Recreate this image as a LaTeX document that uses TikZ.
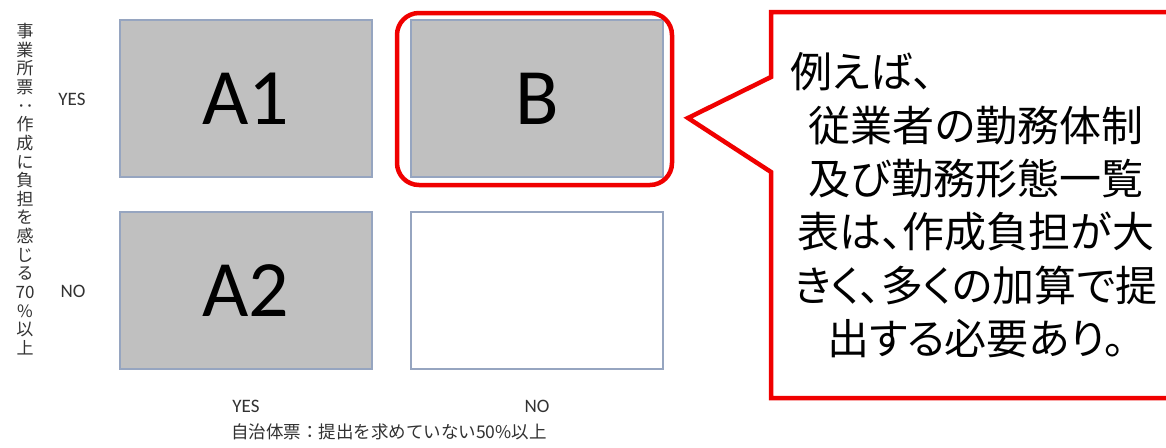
\documentclass[tikz,border=0pt]{standalone}
\usepackage{fontspec}
\setmainfont{Carlito}
\newfontfamily\jp{Noto Sans CJK JP}
\newfontfamily\jpp[RawFeature=+palt]{Noto Sans CJK JP}
\usetikzlibrary{positioning}
\definecolor{boxgray}{RGB}{192,192,192}
\definecolor{boxedge}{RGB}{150,165,192}
\definecolor{calred}{RGB}{240,0,0}
\definecolor{labtext}{RGB}{50,50,50}
\tikzset{
  cell/.style={draw=boxedge, line width=1.2pt, minimum width=252pt, minimum height=157pt, inner sep=0pt, font=\fontsize{80}{80}\selectfont},
  filled/.style={cell, fill=boxgray},
  axislab/.style={font=\fontsize{19}{19}\selectfont, text=labtext, inner sep=0pt},
  jplab/.style={font=\jp\fontsize{17.5}{18}\selectfont, text=labtext, inner sep=0pt},
  redline/.style={draw=calred, line width=4.5pt},
  callouttext/.style={font=\jpp\fontsize{42}{53.2}\selectfont, text=black, inner sep=0pt}
}
\begin{document}
\begin{tikzpicture}[x=1pt,y=-1pt]
\useasboundingbox[fill=white] (0,0) rectangle (1166,447);
% cells
\node[filled] (A1) at (246,98.5) {A1};
\node[filled] (B) at (537,98.5) {B};
\node[filled] (A2) at (246,290.5) {A2};
\node[cell] (E) at (537,290.5) {};
% red ring round B
\node[redline, rounded corners=22pt, minimum width=275pt, minimum height=172pt, inner sep=0pt] (ring) at (534.5,99) {};
% axis labels
\node[axislab] (ly) at (72,99) {YES};
\node[axislab] (ln) at (73,291) {NO};
\node[axislab] (by) at (246,406) {YES};
\node[axislab] (bn) at (537,406) {NO};
\node[jplab] (cap) at (389,432) {自治体票：提出を求めていない50\%以上};
\node[jplab, font=\jp\fontsize{17}{18.65}\selectfont, align=center, anchor=north] (vcap) at (25,23)
 {事\\業\\所\\票\\\rotatebox[origin=c]{-90}{：}\\作\\成\\に\\負\\担\\を\\感\\じ\\る\\70\\\%\\以\\上};
% callout
\coordinate (tip) at (688,118);
\draw[redline, line join=miter] (1172,12) -- (771,12) -- (771,77) -- (tip) -- (771,172) -- (771,398) -- (1172,398);
\node[callouttext, anchor=west] (c1) at (790,72) {例えば、};
\node[callouttext, align=center] (c2) at (976,232)
 {従業者の勤務体制\\及び勤務形態一覧\\表は、作成負担が大\\きく、多くの加算で提\\出する必要あり。};
\end{tikzpicture}
\end{document}
